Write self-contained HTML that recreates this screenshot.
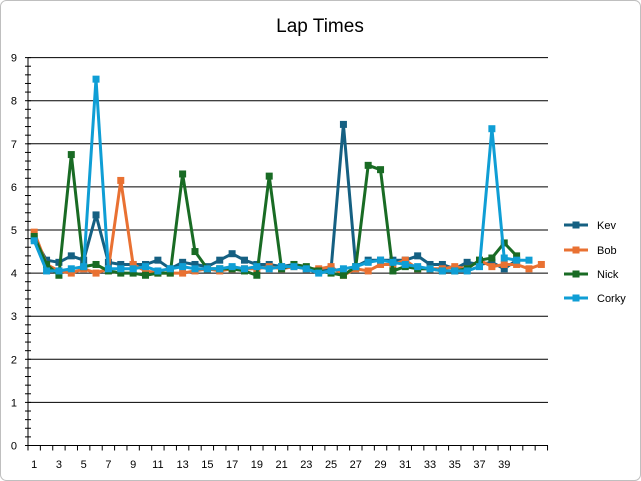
<!DOCTYPE html>
<html><head><style>
html,body{margin:0;padding:0;background:#fff;}
svg{display:block;font-family:"Liberation Sans",Arial,sans-serif;}
</style></head><body>
<svg id="s" width="641" height="481" xmlns="http://www.w3.org/2000/svg"></svg>
<script>
const s=document.getElementById('s');
let h='<rect x="0.5" y="0.5" width="640" height="480" rx="6" fill="#fff" stroke="#bfbfbf"/>';
h+='<text x="320" y="32" font-size="19" text-anchor="middle" fill="#000">Lap Times</text>';
const y0=445.5,u=43.1,x0=28,cw=12.37;
const Y=v=>y0-v*u, X=i=>x0+cw*(i-0.5);
for(let v=1;v<=9;v++)h+=`<line x1="${x0}" x2="548" y1="${Y(v)}" y2="${Y(v)}" stroke="#000" stroke-width="1"/>`;
for(let v=0;v<=9;v++)h+=`<text x="17" y="${Y(v)+4}" font-size="11" text-anchor="end">${v}</text>`;
h+=`<line x1="${x0}" x2="${x0}" y1="${Y(9)}" y2="${y0}" stroke="#000"/>`;
for(let v=0;v<=9;v+=0.2)h+=`<line x1="${x0-3}" x2="${x0+3}" y1="${Y(v)}" y2="${Y(v)}" stroke="#000"/>`;
h+=`<line x1="${x0}" x2="548" y1="${y0}" y2="${y0}" stroke="#000"/>`;
for(let i=0;i<=42;i++)h+=`<line x1="${x0+cw*i}" x2="${x0+cw*i}" y1="${y0}" y2="${y0+5}" stroke="#000"/>`;
for(let i=1;i<=39;i+=2)h+=`<text x="${X(i)}" y="468" font-size="11" text-anchor="middle">${i}</text>`;
const D={
Kev:['#156082',[4.8,4.3,4.25,4.4,4.3,5.35,4.25,4.2,4.2,4.2,4.3,4.1,4.25,4.2,4.15,4.3,4.45,4.3,4.2,4.2,4.15,4.2,4.1,4.05,4.1,7.45,4.15,4.3,4.3,4.3,4.3,4.4,4.2,4.2,4.1,4.25,4.2,4.25,4.1,4.3]],
Bob:['#E97132',[4.95,4.2,4.05,4.0,4.1,4.0,4.1,6.15,4.2,4.05,4.0,4.0,4.0,4.05,4.1,4.05,4.1,4.1,4.1,4.15,4.1,4.15,4.1,4.1,4.15,3.95,4.1,4.05,4.2,4.2,4.3,4.1,4.1,4.1,4.15,4.1,4.3,4.15,4.2,4.2,4.1,4.2]],
Nick:['#196B24',[4.85,4.2,3.95,6.75,4.15,4.2,4.05,4.0,4.0,3.95,4.0,4.0,6.3,4.5,4.1,4.1,4.1,4.05,3.95,6.25,4.1,4.2,4.15,4.05,4.0,3.95,4.15,6.5,6.4,4.05,4.15,4.1,4.1,4.05,4.05,4.1,4.3,4.35,4.7,4.4]],
Corky:['#0F9ED5',[4.75,4.05,4.05,4.1,4.15,8.5,4.1,4.1,4.1,4.15,4.05,4.1,4.15,4.1,4.1,4.1,4.15,4.1,4.15,4.1,4.15,4.15,4.1,4.0,4.05,4.1,4.15,4.25,4.3,4.25,4.2,4.15,4.1,4.05,4.05,4.05,4.15,7.35,4.35,4.3,4.3]]};
const ly={Kev:225,Bob:250,Nick:274,Corky:298};
for(const k in D){const [c,a]=D[k];
 h+=`<polyline fill="none" stroke="${c}" stroke-width="3" stroke-linejoin="round" points="${a.map((v,i)=>X(i+1).toFixed(1)+','+Y(v).toFixed(1)).join(' ')}"/>`;
 a.forEach((v,i)=>h+=`<rect x="${X(i+1)-3.5}" y="${Y(v)-3.5}" width="7" height="7" fill="${c}"/>`);
 const y=ly[k];
 h+=`<line x1="564" x2="588" y1="${y}" y2="${y}" stroke="${c}" stroke-width="3"/><rect x="572.5" y="${y-3.5}" width="7" height="7" fill="${c}"/><text x="597" y="${y+4}" font-size="11">${k}</text>`;
}
s.innerHTML=h;
</script>
</body></html>
